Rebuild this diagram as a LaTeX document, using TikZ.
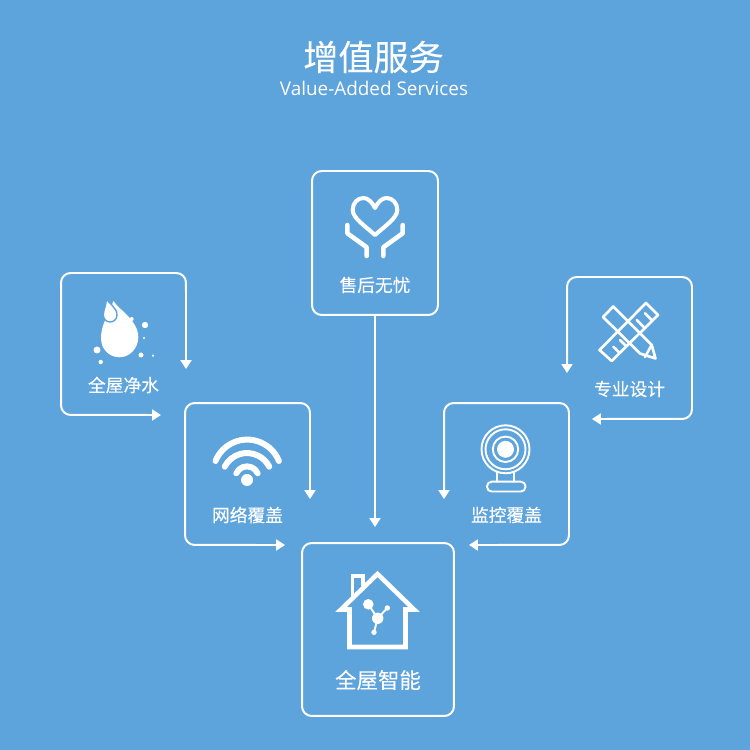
\documentclass[tikz,border=0pt]{standalone}
\usepackage{fontspec}
\setmainfont[FakeBold=0.12]{Noto Sans CJK SC}
\newfontfamily\latinfont{Open Sans}
\usetikzlibrary{arrows.meta,positioning}
\definecolor{bgblue}{HTML}{5DA3DC}

\begin{document}
\begin{tikzpicture}[
        x=0.02cm, y=0.02cm,
        panel/.style={
            draw=white,
            line width=1.13pt,
            rounded corners=5.5pt,
            inner sep=0pt,
            outer sep=0pt
        },
        framebox/.style={
            inner sep=0pt,
            outer sep=0pt,
            minimum width=2.5cm,
            minimum height=2.84cm
        },
        caption/.style={
            text=white,
            inner sep=0pt,
            font=\fontsize{10.1pt}{12pt}\selectfont
        },
        arrow/.style={-{Triangle[length=5pt,width=6.2pt]}, white, line width=1.13pt},
        loopline/.style={{Triangle[length=5pt,width=6.2pt]}-{Triangle[length=5pt,width=6.2pt]}, white, line width=1.13pt, rounded corners=5.5pt},
        iconline/.style={white, line width=#1, line cap=round, line join=round},
        iconline/.default=1.2pt
    ]
        \fill[bgblue] (0,0) rectangle (750,750);

        \node[text=white, inner sep=0pt, font=\fontsize{20pt}{24pt}\selectfont] (title) at (373.5,693) {增值服务};
        \node[text=white, inner sep=0pt, font=\latinfont\fontsize{10.75pt}{13pt}\selectfont] (subtitle) at (374,662) {Value-Added Services};

        % closed boxes
        \node[panel, minimum width=2.52cm, minimum height=2.88cm] (service) at (375,507) {};
        \node[panel, minimum width=3.04cm, minimum height=3.46cm] (home) at (378,120.5) {};

        % open boxes
        \node[framebox] (water) at (123.5,406) {};
        \node[framebox] (wifi) at (247.5,276) {};
        \node[framebox] (design) at (629.5,402) {};
        \node[framebox] (camera) at (506.5,276) {};

        \coordinate (waterdown) at (186,381);
        \coordinate (waterside) at (161,335);
        \coordinate (wifidown) at (310,251);
        \coordinate (wifiside) at (285,205);
        \coordinate (designdown) at (567,377);
        \coordinate (designside) at (592,331);
        \coordinate (cameradown) at (444,251);
        \coordinate (cameraside) at (469,205);
        \coordinate (hometop) at (375,223);

        \foreach \target in {water,wifi} {
            \draw[loopline] (\target down) -- (\target.north east) -- (\target.north west) -- (\target.south west) -- (\target side);
        }
        \foreach \target in {design,camera} {
            \draw[loopline] (\target down) -- (\target.north west) -- (\target.north east) -- (\target.south east) -- (\target side);
        }
        \draw[arrow] (service.south) -- (hometop);

        % captions
        \node[caption] (servicetext) at (375,465) {售后无忧};
        \node[caption] (watertext) at (123.5,365) {全屋净水};
        \node[caption] (wifitext) at (247.5,235) {网络覆盖};
        \node[caption] (designtext) at (629.5,361) {专业设计};
        \node[caption] (cameratext) at (506.5,235) {监控覆盖};
        \node[caption, font=\fontsize{12.2pt}{14pt}\selectfont] (hometext) at (378,70) {全屋智能};

        % heart and hands
        \draw[iconline=2.3pt] (375,515) .. controls (365,524) and (352.7,532) .. (352.7,540)
            .. controls (352.7,547) and (357.5,552) .. (363.5,552)
            .. controls (368,552) and (372,548) .. (375,542)
            .. controls (378,548) and (382,552) .. (386.5,552)
            .. controls (392.5,552) and (397.3,547) .. (397.3,540)
            .. controls (397.3,532) and (385,524) .. (375,515) -- cycle;
        \draw[iconline=2.6pt] (347.3,525) -- (347.3,516.7) -- (366.7,502.7) -- (366.7,494);
        \draw[iconline=2.6pt] (402.7,525) -- (402.7,516.7) -- (383.3,502.7) -- (383.3,494);

        % water drops
        \fill[white] (113.5,449) .. controls (119,440) and (138,430) .. (138.3,413)
            .. controls (138.3,401) and (129,392.7) .. (119.5,392.7)
            .. controls (109,392.7) and (101,401) .. (101,412)
            .. controls (101,425) and (108,435) .. (113.5,449) -- cycle;
        \filldraw[fill=white, draw=bgblue, line width=0.8pt] (106,452.5) .. controls (107.5,447) and (117,443) .. (117,435)
            .. controls (117,430.5) and (113.5,428) .. (110,428)
            .. controls (106,428) and (103.3,431.5) .. (103.3,435)
            .. controls (103.3,441) and (107,445) .. (106,452.5) -- cycle;
        \foreach \px/\py/\pr in {145/425/3.2,144/412/1.2,97/400/3.5,100.7/388/2.2,141/395/2.5,153/394.3/1.2,131.7/431/2} {
            \fill[white] (\px,\py) circle[radius=\pr];
        }

        % wifi
        \draw[iconline=3.4pt] (215.5,289) arc[start angle=158,end angle=22,radius=34.2];
        \draw[iconline=3.4pt] (224.7,283.3) arc[start angle=153,end angle=27,radius=25];
        \draw[iconline=3.4pt] (236.3,276.7) arc[start angle=156,end angle=24,radius=11.7];
        \fill[white] (247,270) circle[radius=6];

        % pencil and ruler
        \draw[iconline=1.5pt] (603,433) -- (613.3,443.5) -- (651.7,405) -- (655.5,391.5) -- (640,396.5) -- cycle;
        \draw[iconline=1.5pt] (651.7,405) -- (645,393);
        \draw[iconline=1.5pt] (599.5,400) -- (611.7,389) -- (658,435) -- (646,447) -- cycle;
        \draw[iconline=1.5pt] (619.7,397) -- (613.3,403.3);
        \draw[iconline=1.5pt] (626.3,403.7) -- (620,410);
        \draw[iconline=1.5pt] (643.7,423) -- (636.7,430);
        \draw[iconline=1.5pt] (652,429.7) -- (645,436.7);

        % camera
        \draw[iconline=1.1pt] (505.5,300.7) circle[radius=24];
        \draw[iconline=1.1pt] (505.5,300.7) circle[radius=20];
        \draw[iconline=1.1pt] (505.5,300.7) circle[radius=12.7];
        \fill[white] (505.5,300.7) circle[radius=8.5];
        \draw[iconline=1.1pt] (497,278) -- (497,268.3);
        \draw[iconline=1.1pt] (514,278) -- (514,268.3);
        \draw[iconline=1.1pt, rounded corners=2.6pt] (487,258.5) rectangle (525.5,268.3);

        % house
        \draw[white, line width=2.6pt, miter limit=10] (341,140.5) -- (377.5,176) -- (414,140.5) -- (405.5,140.5) -- (405.5,103) -- (349.5,103) -- (349.5,140.5) -- cycle;
        \draw[white, line width=2pt] (352.7,153) -- (352.7,174) -- (363,174) -- (363,164);
        \draw[white, line width=1.1pt] (368.3,145.7) -- (377.7,131.7) -- (387.3,142);
        \draw[white, line width=1.1pt] (377.7,131.7) -- (374,117.7);
        \foreach \px/\py/\pr in {368.3/145.7/5.3,377.7/131.7/5.7,387.3/142/2.7,374/117.7/2.7} {
            \fill[white] (\px,\py) circle[radius=\pr];
        }
    \end{tikzpicture}
\end{document}
